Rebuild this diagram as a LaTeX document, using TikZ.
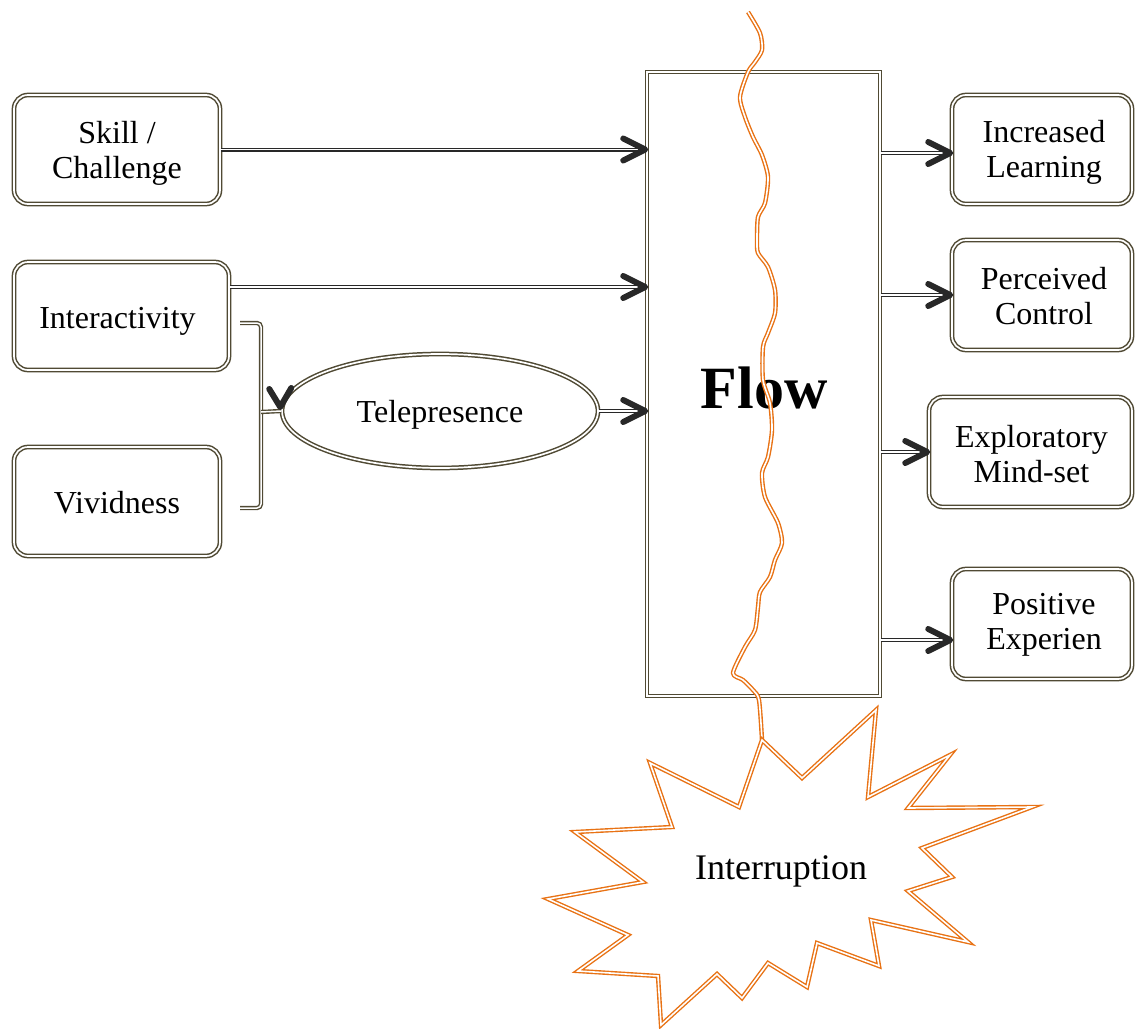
\documentclass[tikz,border=0pt]{standalone}
\usepackage{fontspec}
\setmainfont{Liberation Serif}
\usetikzlibrary{calc,decorations.markings,shapes.geometric}
\definecolor{frameol}{RGB}{80,74,52}
\definecolor{linegray}{RGB}{40,40,40}
\definecolor{boltorange}{RGB}{232,114,20}
\tikzset{
  txt/.style={font=\fontsize{32}{35}\selectfont, align=center},
  frame/.style={draw=frameol, double=white, line width=1.5pt, double distance=1.7pt},
  box/.style={frame, rounded corners=14pt, inner sep=0pt},
  flowbox/.style={frame, inner sep=0pt},
  oval/.style={frame, ellipse, inner sep=0pt},
  chevron/.style={draw=linegray, line width=6pt, line cap=round, line join=round},
  conn/.style={draw=linegray, double=white, line width=1.3pt, double distance=1.4pt,
    postaction={decorate},
    decoration={markings, mark=at position 1 with {
      \draw[chevron] (-23pt,11pt) -- (-1pt,0pt) -- (-23pt,-11pt);}}},
  bracket/.style={draw=frameol, double=white, line width=1.4pt, double distance=1.5pt},
  bolt/.style={draw=boltorange, double=white, line width=1.4pt, double distance=1.6pt,
    line join=round},
}
\begin{document}
\begin{tikzpicture}[x=1pt, y=-1pt]
\useasboundingbox (0,0) rectangle (1135,1028);

% drivers on the left
\node[box, minimum width=206pt, minimum height=109pt,
  label={[txt, yshift=-4pt]center:{Skill /\\Challenge}}] (skill) at (117,149.5) {};
\node[box, minimum width=215pt, minimum height=108pt,
  label={[txt, yshift=-5pt, xshift=-4pt]center:Interactivity}] (inter) at (121.5,316) {};
\node[box, minimum width=206pt, minimum height=109pt,
  label={[txt, yshift=-1pt]center:Vividness}] (vivid) at (117,501.5) {};
\node[oval, minimum width=316pt, minimum height=114pt,
  label={[txt, yshift=-4pt]center:Telepresence}] (tele) at (440,411) {};

% central flow state
\node[flowbox, minimum width=233pt, minimum height=624pt] (flow) at (763.5,384) {};
\node[font=\fontsize{60}{62}\selectfont\bfseries] (flowlabel) at (764,388) {Flow};

% outcomes on the right
\node[box, minimum width=180pt, minimum height=109pt,
  label={[txt, yshift=-3pt, xshift=2pt]center:{Increased\\Learning}}] (learn) at (1042,149.5) {};
\node[box, minimum width=180pt, minimum height=110pt,
  label={[txt, yshift=-1pt, xshift=2pt]center:{Perceived\\Control}}] (control) at (1042,295) {};
\node[box, minimum width=203pt, minimum height=110pt,
  label={[txt, yshift=-2pt, xshift=1pt]center:{Exploratory\\Mind-set}}] (explore) at (1030.5,452) {};
\node[box, minimum width=180pt, minimum height=110pt,
  label={[txt, yshift=-1pt, xshift=2pt]center:{Positive\\Experien}}] (positive) at (1042,624) {};

% bracket joining interactivity and vividness into telepresence
\coordinate (brtop) at (240,323);
\coordinate (brbot) at (240,508);
\coordinate (brmid) at (261,412);
\draw[bracket, rounded corners=4pt] (brtop) -| (brmid) |- (brbot);
\draw[bracket] (brmid) -- (tele.west);
\draw[chevron] ($(tele.west)+(-12,-22)$) -- ($(tele.west)+(-1,-4)$) -- ($(tele.west)+(10,-23)$);

% inputs into flow
\draw[conn] (skill.east) -- (skill.east -| flow.west);
\draw[conn] (inter.15.6) -- (inter.15.6 -| flow.west);
\draw[conn] (tele.east) -- (tele.east -| flow.west);

% outputs from flow
\coordinate (learnin) at ($(learn.west)+(0,3.5)$);
\coordinate (posin) at ($(positive.west)+(0,16)$);
\draw[conn] (flow.east |- learnin) -- (learnin);
\draw[conn] (flow.east |- control.west) -- (control.west);
\draw[conn] (flow.east |- explore.west) -- (explore.west);
\draw[conn] (flow.east |- posin) -- (posin);

% interruption bolt cutting through flow
\draw[bolt] plot[smooth, tension=0.45] coordinates {
  (748,12) (760,33) (762,50) (755,62) (748,72) (740,97) (745,117) (753,137)
  (762,155) (768,177) (765,203) (758,217) (757,240) (758,253) (768,267)
  (775,290) (775,313) (768,333) (763,347) (763,380) (770,403) (772,430)
  (768,457) (762,473) (765,497) (778,523) (782,543) (775,560) (770,577)
  (760,592) (758,607) (755,630) (745,647) (733,673) (743,680) (753,690)
  (759,700) (762,740)};

% interruption burst
\draw[bolt, line join=miter] (762,740) -- (802,778) -- (876,710) -- (868,797) -- (950,755)
  -- (908,808) -- (1032,807) -- (922,848) -- (952,877) -- (908,891) -- (968,942)
  -- (871,920) -- (879,966) -- (817,943) -- (807,987) -- (768,963) -- (742,998)
  -- (717,974) -- (661,1025) -- (658,976) -- (578,971) -- (628,935) -- (548,899)
  -- (643,882) -- (575,832) -- (672,827) -- (650,763) -- (739,807) -- cycle;
\node[font=\fontsize{36}{40}\selectfont] (interrupt) at (781,871) {Interruption};
\end{tikzpicture}
\end{document}
